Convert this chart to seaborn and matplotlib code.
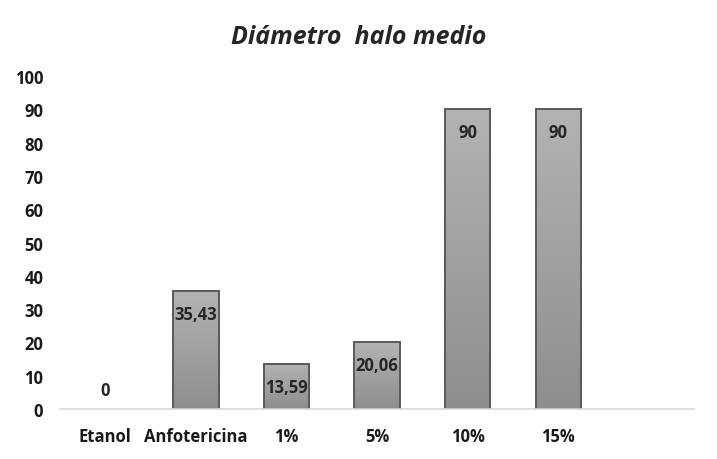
import matplotlib
matplotlib.use("Agg")
from matplotlib import pyplot as plt
import numpy as np
import pandas as pd
import seaborn as sns

# data
categories = ["Etanol", "Anfotericina", "1%", "5%", "10%", "15%"]
values = [0, 35.43, 13.59, 20.06, 90, 90]
labels = ["0", "35,43", "13,59", "20,06", "90", "90"]
title = "Diámetro  halo medio"

df = pd.DataFrame({"cat": categories, "val": values})

sns.set_style("white")
plt.rcParams["font.family"] = ["Open Sans", "DejaVu Sans"]

fig = plt.figure(figsize=(7.17, 4.6), dpi=100)
ax = fig.add_axes([0.0837, 0.1087, 0.8843, 0.7239])

sns.barplot(data=df, x="cat", y="val", order=categories, width=0.5,
            color="#a6a6a6", edgecolor="#595959", linewidth=1.4,
            saturation=1, ax=ax)

# gradient fill clipped to each bar (light on top, darker below)
grad = np.linspace(0, 1, 256).reshape(-1, 1)
cmap = matplotlib.colors.LinearSegmentedColormap.from_list(
    "g", ["#b3b3b3", "#8e8e8e"])
for p in ax.patches:
    x0, y0 = p.get_x(), p.get_y()
    w, h = p.get_width(), p.get_height()
    if h <= 0:
        p.set_visible(False)
        continue
    im = ax.imshow(grad, cmap=cmap, aspect="auto", extent=[x0, x0 + w, y0, y0 + h],
                   origin="upper", zorder=p.get_zorder() + 0.1)
    im.set_clip_path(p)
    p.set_facecolor("none")
    p.set_zorder(p.get_zorder() + 0.2)

for i, (v, lab) in enumerate(zip(values, labels)):
    if v == 0:
        ax.annotate(lab, (i, v), xytext=(0, 7), textcoords="offset points",
                    ha="center", va="bottom", fontsize=12, fontweight="bold")
    else:
        ax.annotate(lab, (i, v), xytext=(0, -10), textcoords="offset points",
                    ha="center", va="top", fontsize=12, fontweight="bold")

ax.set_xlim(-0.5, 6.5)
ax.set_ylim(0, 100)
ax.set_yticks(range(0, 101, 10))
ax.set_xlabel("")
ax.set_ylabel("")
for s in ["top", "right", "left"]:
    ax.spines[s].set_visible(False)
ax.spines["bottom"].set_color("#d9d9d9")
ax.spines["bottom"].set_linewidth(1.2)
ax.tick_params(axis="both", length=0, labelsize=12, labelcolor="#1a1a1a")
ax.tick_params(axis="y", pad=12)
ax.tick_params(axis="x", pad=13)
for t in ax.get_xticklabels() + ax.get_yticklabels():
    t.set_fontweight("bold")

fig.suptitle(title, x=0.5, y=0.945, fontsize=18, fontweight="bold",
             fontstyle="italic")

plt.savefig("out.png", dpi=100)
